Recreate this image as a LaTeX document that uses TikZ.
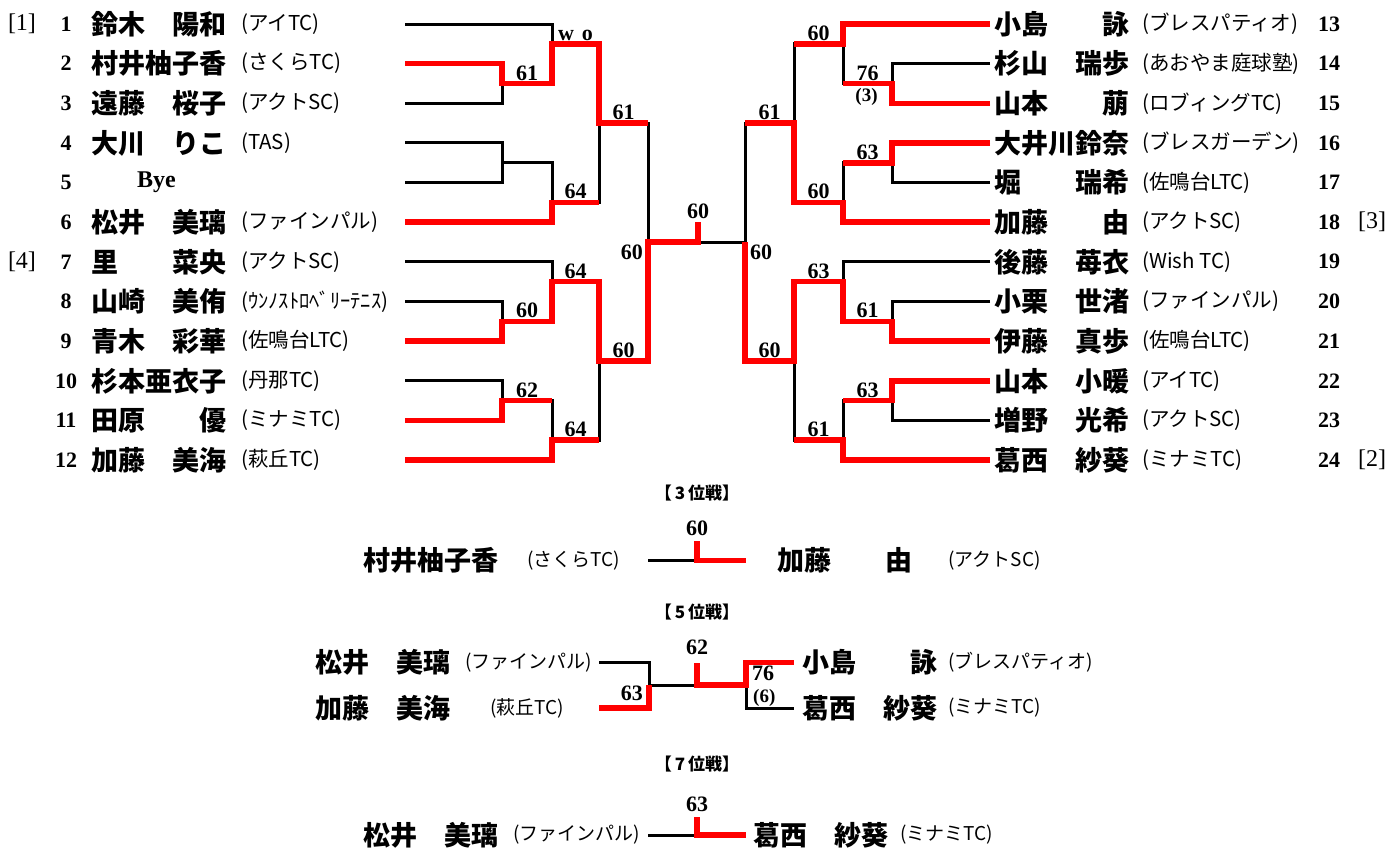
\documentclass[tikz,border=0pt]{standalone}
\usepackage{fontspec}
\setmainfont{Liberation Serif}
\newfontfamily\jp{Noto Sans CJK JP}
\usetikzlibrary{calc}
\tikzset{
 bl/.style={line width=3pt, draw=black},
 rd/.style={line width=5.5pt, draw=red},
 score/.style={font=\fontsize{22}{22}\selectfont\bfseries, inner sep=0pt},
 sub/.style={font=\fontsize{19}{19}\selectfont\bfseries, inner sep=0pt},
 num/.style={font=\fontsize{22}{22}\selectfont\bfseries, inner sep=0pt},
 seed/.style={font=\fontsize{24}{24}\selectfont, inner sep=0pt},
 pname/.style={font=\jp\bfseries\fontsize{27}{27}\selectfont, inner sep=0pt, anchor=west},
 club/.style={font=\jp\fontsize{20.5}{20.5}\selectfont, inner sep=0pt, anchor=west},
 bclub/.style={font=\jp\fontsize{19}{19}\selectfont, inner sep=0pt, anchor=west},
 ttl/.style={font=\jp\bfseries\fontsize{17}{17}\selectfont, inner sep=0pt},
}
\newcommand\leftrow[4]{%
 \node[num] (num#1) at (66,#2) {#1};
 \node[pname] (name#1) at (91,#2) {#3};
 \node[club] (club#1) at (241,#2) {#4};
 \coordinate (p#1) at (405,#2);
}
\newcommand\rightrow[4]{%
 \node[pname] (name#1) at (994,#2) {#3};
 \node[club] (club#1) at (1142,#2) {#4};
 \node[num] (num#1) at (1329,#2) {#1};
 \coordinate (p#1) at (990,#2);
}
\begin{document}
\begin{tikzpicture}[x=1pt,y=-1pt]
\useasboundingbox (0,0) rectangle (1392,854);

% ---------- players, left
\leftrow{1}{24.0}{鈴木　陽和}{(アイTC)}
\leftrow{2}{63.6}{村井柚子香}{(さくらTC)}
\leftrow{3}{103.3}{遠藤　桜子}{(アクトSC)}
\leftrow{4}{142.9}{大川　りこ}{(TAS)}
\node[num] (num5) at (66,182.6) {5};
\node[num, anchor=west, font=\fontsize{24}{24}\selectfont\bfseries] (name5) at (137,182.6) {Bye};
\coordinate (p5) at (405,182.6);
\leftrow{6}{222.2}{松井　美璃}{(ファインパル)}
\leftrow{7}{261.8}{里　　菜央}{(アクトSC)}
\leftrow{8}{301.5}{山崎　美侑}{(ｳﾝﾉｽﾄﾛﾍﾞﾘｰﾃﾆｽ)}
\leftrow{9}{341.1}{青木　彩華}{(佐鳴台LTC)}
\leftrow{10}{380.8}{杉本亜衣子}{(丹那TC)}
\leftrow{11}{420.4}{田原　　優}{(ミナミTC)}
\leftrow{12}{460.0}{加藤　美海}{(萩丘TC)}
\node[seed] (seed1) at (22,24.0) {[1]};
\node[seed] (seed4) at (22,261.8) {[4]};

% ---------- players, right
\rightrow{13}{24.0}{小島　　詠}{(ブレスパティオ)}
\rightrow{14}{63.6}{杉山　瑞歩}{(あおやま庭球塾)}
\rightrow{15}{103.3}{山本　　萠}{(ロブィングTC)}
\rightrow{16}{142.9}{大井川鈴奈}{(ブレスガーデン)}
\rightrow{17}{182.6}{堀　　瑞希}{(佐鳴台LTC)}
\rightrow{18}{222.2}{加藤　　由}{(アクトSC)}
\rightrow{19}{261.8}{後藤　苺衣}{(Wish TC)}
\rightrow{20}{301.5}{小栗　世渚}{(ファインパル)}
\rightrow{21}{341.1}{伊藤　真歩}{(佐鳴台LTC)}
\rightrow{22}{380.8}{山本　小暖}{(アイTC)}
\rightrow{23}{420.4}{増野　光希}{(アクトSC)}
\rightrow{24}{460.0}{葛西　紗葵}{(ミナミTC)}
\node[seed] (seed3) at (1372,222.2) {[3]};
\node[seed] (seed2) at (1372,460.0) {[2]};

% ---------- match junctions
\coordinate (mA) at (502,83.5);  \coordinate (mB) at (552,43.8);
\coordinate (mC) at (502,162.8); \coordinate (mD) at (552,202.4);
\coordinate (mE) at (599,123.1);
\coordinate (mF) at (502,321.3); \coordinate (mG) at (552,281.7);
\coordinate (mH) at (502,400.6); \coordinate (mI) at (552,440.2);
\coordinate (mJ) at (599,360.9);
\coordinate (mK) at (648,242.0);
\coordinate (nA) at (892,83.5);  \coordinate (nB) at (843,43.8);
\coordinate (nC) at (892,162.8); \coordinate (nD) at (843,202.4);
\coordinate (nE) at (794,123.1);
\coordinate (nF) at (892,321.3); \coordinate (nG) at (843,281.7);
\coordinate (nH) at (892,400.6); \coordinate (nI) at (843,440.2);
\coordinate (nJ) at (794,360.9);
\coordinate (nK) at (745,242.0);
\coordinate (fb) at (698,242.0);
\coordinate (ft) at (698,222.2);

% ---------- black lines
\draw[bl] (p2) -| (mA);  \draw[bl] (p3) -| (mA);
\draw[bl] (p1) -| (mB);  \draw[bl] (mA) -| (mB);
\draw[bl] (p4) -| (mC);  \draw[bl] (p5) -| (mC);
\draw[bl] (mC) -| (mD);  \draw[bl] (p6) -| (mD);
\draw[bl] (mB) -| (mE);  \draw[bl] (mD) -| (mE);
\draw[bl] (p8) -| (mF);  \draw[bl] (p9) -| (mF);
\draw[bl] (p7) -| (mG);  \draw[bl] (mF) -| (mG);
\draw[bl] (p10) -| (mH); \draw[bl] (p11) -| (mH);
\draw[bl] (mH) -| (mI);  \draw[bl] (p12) -| (mI);
\draw[bl] (mG) -| (mJ);  \draw[bl] (mI) -| (mJ);
\draw[bl] (mE) -| (mK);  \draw[bl] (mJ) -| (mK);
\draw[bl] (p14) -| (nA); \draw[bl] (p15) -| (nA);
\draw[bl] (p13) -| (nB); \draw[bl] (nA) -| (nB);
\draw[bl] (p16) -| (nC); \draw[bl] (p17) -| (nC);
\draw[bl] (nC) -| (nD);  \draw[bl] (p18) -| (nD);
\draw[bl] (nB) -| (nE);  \draw[bl] (nD) -| (nE);
\draw[bl] (p20) -| (nF); \draw[bl] (p21) -| (nF);
\draw[bl] (p19) -| (nG); \draw[bl] (nF) -| (nG);
\draw[bl] (p22) -| (nH); \draw[bl] (p23) -| (nH);
\draw[bl] (nH) -| (nI);  \draw[bl] (p24) -| (nI);
\draw[bl] (nG) -| (nJ);  \draw[bl] (nI) -| (nJ);
\draw[bl] (nE) -| (nK);  \draw[bl] (nJ) -| (nK);
\draw[bl] (nK) -- (fb);

% ---------- red (winners)
\draw[rd] (p2) -| (mA) -- (mA -| mB);
\draw[rd] (mA) -| (mB) -- (mB -| mE);
\draw[rd] (p6) -| (mD) -- (mD -| mE);
\draw[rd] (mB) -| (mE) -- (mE -| mK);
\draw[rd] (p9) -| (mF) -- (mF -| mG);
\draw[rd] (mF) -| (mG) -- (mG -| mJ);
\draw[rd] (p11) -| (mH) -- (mH -| mI);
\draw[rd] (p12) -| (mI) -- (mI -| mJ);
\draw[rd] (mG) -| (mJ) -- (mJ -| mK);
\draw[rd] (mJ) -| (mK) -| (ft);
\draw[rd] (p15) -| (nA) -- (nA -| nB);
\draw[rd] (p13) -| (nB) -- (nB -| nE);
\draw[rd] (p16) -| (nC) -- (nC -| nD);
\draw[rd] (p18) -| (nD) -- (nD -| nE);
\draw[rd] (nD) -| (nE) -- (nE -| nK);
\draw[rd] (p21) -| (nF) -- (nF -| nG);
\draw[rd] (nF) -| (nG) -- (nG -| nJ);
\draw[rd] (p22) -| (nH) -- (nH -| nI);
\draw[rd] (p24) -| (nI) -- (nI -| nJ);
\draw[rd] (nG) -| (nJ) -- (nJ -| nK);
\draw[rd] (nJ) -| (nK);

% ---------- scores
\node[score, anchor=south] (sA) at ($(mA)!.5!(mA -| mB)+(0,-3)$) {61};
\node[score, anchor=south] (sB) at ($(mB)!.5!(mB -| mE)+(0,-3)$) {w\hspace{0.35em}o};
\node[score, anchor=south] (sD) at ($(mD)!.5!(mD -| mE)+(0,-3)$) {64};
\node[score, anchor=south] (sE) at ($(mE)!.5!(mE -| mK)+(0,-3)$) {61};
\node[score, anchor=south] (sF) at ($(mF)!.5!(mF -| mG)+(0,-3)$) {60};
\node[score, anchor=south] (sG) at ($(mG)!.5!(mG -| mJ)+(0,-3)$) {64};
\node[score, anchor=south] (sH) at ($(mH)!.5!(mH -| mI)+(0,-3)$) {62};
\node[score, anchor=south] (sI) at ($(mI)!.5!(mI -| mJ)+(0,-3)$) {64};
\node[score, anchor=south] (sJ) at ($(mJ)!.5!(mJ -| mK)+(0,-3)$) {60};
\node[score, anchor=north east] (sK) at ($(mK)+(-5,3)$) {60};
\node[score, anchor=south] (sFin) at ($(ft)+(0,-3)$) {60};
\node[score, anchor=south] (tA) at ($(nA)!.5!(nA -| nB)+(0,-3)$) {76};
\node[sub, anchor=north] (tA2) at ($(nA)!.5!(nA -| nB)+(-1,5)$) {(3)};
\node[score, anchor=south] (tB) at ($(nB)!.5!(nB -| nE)+(0,-3)$) {60};
\node[score, anchor=south] (tC) at ($(nC)!.5!(nC -| nD)+(0,-3)$) {63};
\node[score, anchor=south] (tD) at ($(nD)!.5!(nD -| nE)+(0,-3)$) {60};
\node[score, anchor=south] (tE) at ($(nE)!.5!(nE -| nK)+(0,-3)$) {61};
\node[score, anchor=south] (tF) at ($(nF)!.5!(nF -| nG)+(0,-3)$) {61};
\node[score, anchor=south] (tG) at ($(nG)!.5!(nG -| nJ)+(0,-3)$) {63};
\node[score, anchor=south] (tH) at ($(nH)!.5!(nH -| nI)+(0,-3)$) {63};
\node[score, anchor=south] (tI) at ($(nI)!.5!(nI -| nJ)+(0,-3)$) {61};
\node[score, anchor=south] (tJ) at ($(nJ)!.5!(nJ -| nK)+(0,-3)$) {60};
\node[score, anchor=north west] (tK) at ($(nK)+(5,3)$) {60};

% ---------- 3rd place
\node[ttl] (title3) at (697,493) {【\,3\,位戦】};
\node[pname] (b3a) at (363,560.7) {村井柚子香};
\node[bclub] (b3ac) at (527,560.7) {(さくらTC)};
\node[pname] (b3b) at (777,560.7) {加藤　　由};
\node[bclub] (b3bc) at (948,560.7) {(アクトSC)};
\coordinate (b3l) at (648,560.7);
\coordinate (b3m) at (697,560.7);
\coordinate (b3t) at (697,541);
\coordinate (b3r) at (746,560.7);
\draw[bl] (b3l) -- (b3m);
\draw[rd] (b3t) |- (b3r);
\node[score, anchor=south] (s3) at ($(b3t)+(0,-5)$) {60};

% ---------- 5th place
\node[ttl] (title5) at (697,612) {【\,5\,位戦】};
\node[pname] (b5a) at (315,662.7) {松井　美璃};
\node[bclub] (b5ac) at (465,662.7) {(ファインパル)};
\node[pname] (b5b) at (315,708) {加藤　美海};
\node[bclub] (b5bc) at (490,708) {(萩丘TC)};
\node[pname] (b5c) at (802,662.7) {小島　　詠};
\node[bclub] (b5cc) at (948,662.7) {(ブレスパティオ)};
\node[pname] (b5d) at (802,708) {葛西　紗葵};
\node[bclub] (b5dc) at (948,708) {(ミナミTC)};
\coordinate (f1) at (599,662.7);
\coordinate (f2) at (599,708);
\coordinate (fm) at (649,685);
\coordinate (fc) at (697,685);
\coordinate (ft5) at (697,663);
\coordinate (fr) at (746,685);
\coordinate (g1) at (794,662.7);
\coordinate (g2) at (794,708);
\draw[bl] (f1) -| (fm);
\draw[bl] (fm) -- (fc);
\draw[bl] (fr) |- (g2);
\draw[rd] (f2) -| (fm);
\draw[rd] (ft5) |- (fr) |- (g1);
\node[score, anchor=south] (s5) at ($(ft5)+(0,-8)$) {62};
\node[score, anchor=south east] (s5a) at (643,700.5) {63};
\node[score, anchor=north west] (s5b) at (752,665.5) {76};
\node[sub, anchor=north west] (s5c) at (753,689.5) {(6)};

% ---------- 7th place
\node[ttl] (title7) at (697,764) {【\,7\,位戦】};
\node[pname] (b7a) at (363,835) {松井　美璃};
\node[bclub] (b7ac) at (513,835) {(ファインパル)};
\node[pname] (b7b) at (753,835) {葛西　紗葵};
\node[bclub] (b7bc) at (900,835) {(ミナミTC)};
\coordinate (s1) at (648,835);
\coordinate (sm) at (697,835);
\coordinate (st) at (697,817);
\coordinate (s2) at (746,835);
\draw[bl] (s1) -- (sm);
\draw[rd] (st) |- (s2);
\node[score, anchor=south] (s7) at ($(st)+(0,-5)$) {63};
\end{tikzpicture}
\end{document}
